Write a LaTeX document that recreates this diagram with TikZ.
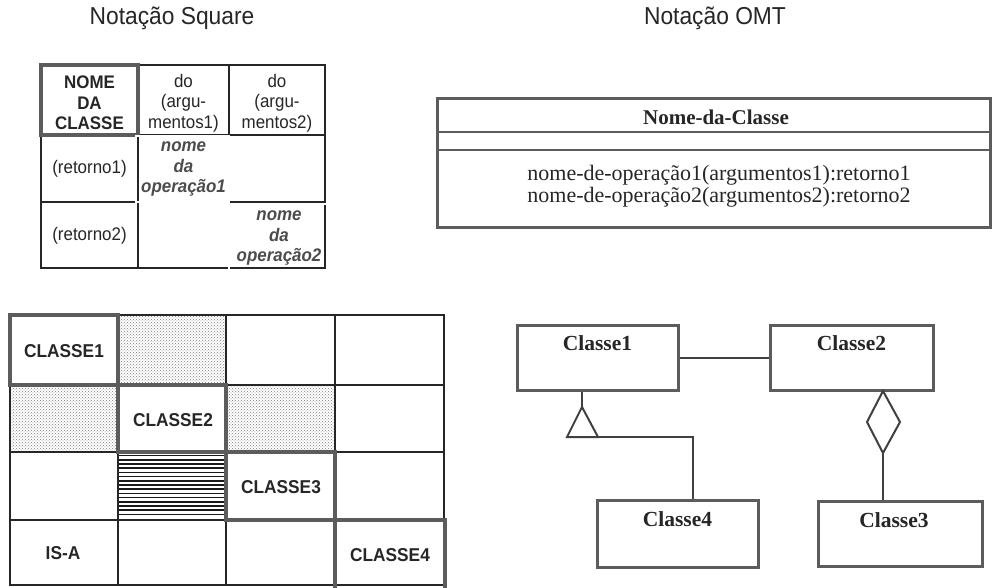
\documentclass[tikz,border=0pt]{standalone}
\usepackage{fontspec}
\setmainfont{Liberation Serif}
\setsansfont{Liberation Sans}
\newfontfamily\sqf{Liberation Sans}[FakeStretch=0.93]
\usetikzlibrary{patterns,calc}
\definecolor{ink}{HTML}{262626}
\definecolor{heavy}{HTML}{5C5C5C}
\definecolor{dotbg}{HTML}{CCCCCC}
\tikzset{
  gridline/.style={draw=black!85, line width=1.1pt},
  heavybox/.style={draw=heavy, line width=4pt},
  dblbox/.style={draw=heavy, line width=0.8pt, double=white, double distance=1.2pt},
  sqtxt/.style={font=\sqf\fontsize{18.2}{20.5}\selectfont, text=ink, align=center, inner sep=0pt},
  sqbold/.style={sqtxt, font=\sqf\bfseries\fontsize{18.2}{20.5}\selectfont},
  sqital/.style={sqtxt, font=\sqf\bfseries\itshape\fontsize{18.2}{20.5}\selectfont, text=black!70},
  sqlab/.style={sqtxt, font=\sqf\bfseries\fontsize{18.6}{20.5}\selectfont},
  title/.style={font=\sqf\fontsize{24.5}{26}\selectfont, text=ink, inner sep=0pt},
  omtbox/.style={draw=heavy, line width=3pt, fill=white, inner sep=0pt},
  omtlabel/.style={font=\bfseries\fontsize{21.5}{24}\selectfont, text=ink, inner sep=0pt},
  omttxt/.style={font=\fontsize{22}{22.5}\selectfont, text=ink, align=center, inner sep=0pt},
  conn/.style={draw=black!75, line width=2pt},
  dotcell/.style={fill=dotbg, pattern=crosshatch dots, pattern color=black!50}
}
\begin{document}
\begin{tikzpicture}[x=1pt,y=-1pt]
\useasboundingbox (0,0) rectangle (999,588);
\fill[white] (0,0) rectangle (999,588);

% titles
\node[title] (t1) at (172,18) {Notação Square};
\node[title] (t2) at (715,18) {Notação OMT};

% ---------- Square notation table ----------
\draw[gridline] (41,65) rectangle (325,268);
\draw[gridline] (138,65) -- (138,268);
\draw[gridline] (229,65) -- (229,268);
\draw[gridline] (41,135) -- (325,135);
\draw[gridline] (41,202) -- (325,202);
\draw[heavybox] (41,65) rectangle (138,135);
\draw[dblbox] (136,136) rectangle (229,202);
\draw[dblbox] (229,204) rectangle (330,271);

\node[sqbold] (nc) at (89.5,103) {NOME\\DA\\CLASSE};
\node[sqtxt] (a1) at (183.5,103) {do\\(argu-\\mentos1)};
\node[sqtxt] (a2) at (277,103) {do\\(argu-\\mentos2)};
\node[sqtxt] (r1) at (89.5,169) {(retorno1)};
\node[sqital] (o1) at (183.5,169) {nome\\da\\operação1};
\node[sqtxt] (r2) at (89.5,236) {(retorno2)};
\node[sqital] (o2) at (279,238) {nome\\da\\operação2};

% ---------- OMT class box ----------
\draw[draw=heavy, line width=3pt] (437,99) rectangle (990,228);
\draw[draw=heavy, line width=2pt] (437,132) -- (990,132);
\draw[draw=heavy, line width=2pt] (437,150) -- (990,150);
\node[omtlabel, font=\bfseries\fontsize{21}{24}\selectfont] (nm) at (716,117) {Nome-da-Classe};
\node[omttxt] (ops) at (719,186) {nome-de-operação1(argumentos1):retorno1\\nome-de-operação2(argumentos2):retorno2};

% ---------- Square grid ----------
\fill[dotcell] (118,315) rectangle (226,385);
\fill[dotcell] (10,385) rectangle (118,452);
\fill[dotcell] (226,385) rectangle (335,452);
\foreach \yy in {455.5,459.7,...,518} {
  \draw[black!90, line width=1.6pt] (118,\yy) -- (226,\yy);
}
\draw[gridline] (10,315) rectangle (444,585);
\foreach \xx in {118,226,335} \draw[gridline] (\xx,315) -- (\xx,585);
\foreach \yy in {385,452,520} \draw[gridline] (10,\yy) -- (444,\yy);
\draw[heavybox] (10,315) rectangle (118,385);
\draw[heavybox] (118,385) rectangle (226,452);
\draw[heavybox] (226,452) rectangle (335,520);
\draw[heavybox] (335,520) rectangle (445,590);

\node[sqlab] (k1) at (64,351) {CLASSE1};
\node[sqlab] (k2) at (173,420) {CLASSE2};
\node[sqlab] (k3) at (281,487) {CLASSE3};
\node[sqlab] (k4) at (390,555) {CLASSE4};
\node[sqlab] (isa) at (63,553) {IS-A};

% ---------- OMT class diagram ----------
\node[omtbox, minimum width=161pt, minimum height=65pt] (c1) at (597.5,357.5) {};
\node[omtbox, minimum width=163pt, minimum height=65pt] (c2) at (851.5,357.5) {};
\node[omtbox, minimum width=161pt, minimum height=67pt] (c4) at (677.5,533.5) {};
\node[omtbox, minimum width=164pt, minimum height=65pt] (c3) at (900,533.5) {};
\node[omtlabel] (l1) at ($(c1.north)+(0,20)$) {Classe1};
\node[omtlabel] (l2) at ($(c2.north)+(0,20)$) {Classe2};
\node[omtlabel] (l4) at ($(c4.north)+(0,21)$) {Classe4};
\node[omtlabel] (l3) at ($(c3.north)+(-6,21)$) {Classe3};

\draw[conn] (c1.east) -- (c2.west);

\coordinate (apex) at (582,407);
\coordinate (tl) at (567,437);
\coordinate (tr) at (598,437);
\coordinate (bend) at (693,437);
\draw[conn] (apex |- c1.south) -- (apex);
\draw[conn, line join=miter] (apex) -- (tl) -- (tr) -- cycle;
\draw[conn] (tr) -- (bend) -- (bend |- c4.north);

\coordinate (dt) at (883,391);
\coordinate (dl) at (867,422);
\coordinate (dr) at (900,422);
\coordinate (db) at (883,453);
\draw[conn, line join=miter] (dt) -- (dl) -- (db) -- (dr) -- cycle;
\draw[conn] (db) -- (db |- c3.north);
\end{tikzpicture}
\end{document}
